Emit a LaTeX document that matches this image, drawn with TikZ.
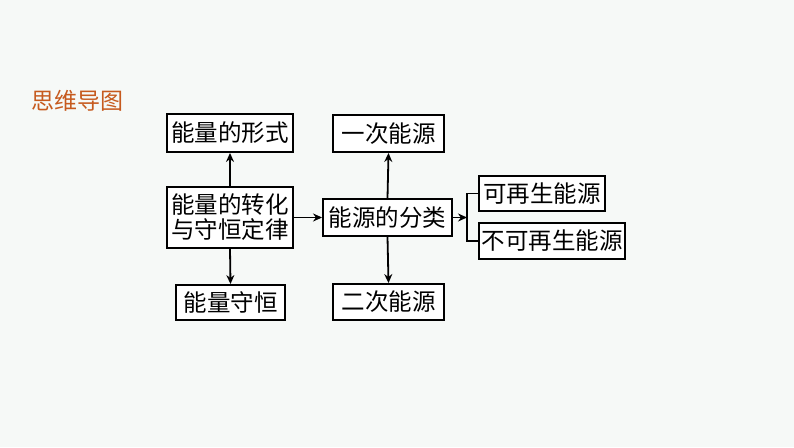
\documentclass[tikz,border=0pt]{standalone}
\usepackage{fontspec}
\setmainfont{Noto Sans CJK SC}
\usetikzlibrary{arrows.meta}
\definecolor{bgc}{RGB}{246,249,247}
\definecolor{titlec}{RGB}{198,90,30}
\tikzset{
  box/.style={draw=black, line width=1.9pt, fill=white, inner sep=0pt, align=center,
    font={\fontsize{23.5}{25}\selectfont}},
  conn/.style={line width=1.8pt, -{Stealth[length=9pt,width=8pt]}},
  plain/.style={line width=1.8pt}
}
\begin{document}
\begin{tikzpicture}[x=1pt,y=-1pt]
\fill[bgc] (0,0) rectangle (794,447);
\useasboundingbox (0,0) rectangle (794,447);
\node[text=titlec, font={\fontsize{23}{25}\selectfont}] (title) at (77,101) {思维导图};
\node[box, minimum width=126pt, minimum height=38pt] (fm) at (230,133) {能量的形式};
\node[box, minimum width=126pt, minimum height=61pt] (zh) at (230,217.5) {能量的转化\\与守恒定律};
\node[box, minimum width=109pt, minimum height=35pt] (sh) at (230.5,302.5) {能量守恒};
\node[box, minimum width=111pt, minimum height=37pt] (yc) at (388.5,133.5) {一次能源};
\node[box, minimum width=129pt, minimum height=37pt] (fl) at (387.5,217.5) {能源的分类};
\node[box, minimum width=111pt, minimum height=36pt] (ec) at (388.5,302) {二次能源};
\node[box, minimum width=126pt, minimum height=35pt] (kz) at (542,193.5) {可再生能源};
\node[box, minimum width=146pt, minimum height=36pt] (bk) at (552,241) {不可再生能源};
\coordinate (j) at (467,217.5);
\draw[conn] (zh.north) -- (fm.south);
\draw[conn] (zh.south) -- (sh.north);
\draw[conn] (zh.east) -- (fl.west);
\draw[conn] (fl.north) -- (yc.south);
\draw[conn] (fl.south) -- (ec.north);
\draw[conn] (fl.east) -- (j);
\draw[plain] (kz.west) -| (j) |- (bk.west);
\end{tikzpicture}
\end{document}
